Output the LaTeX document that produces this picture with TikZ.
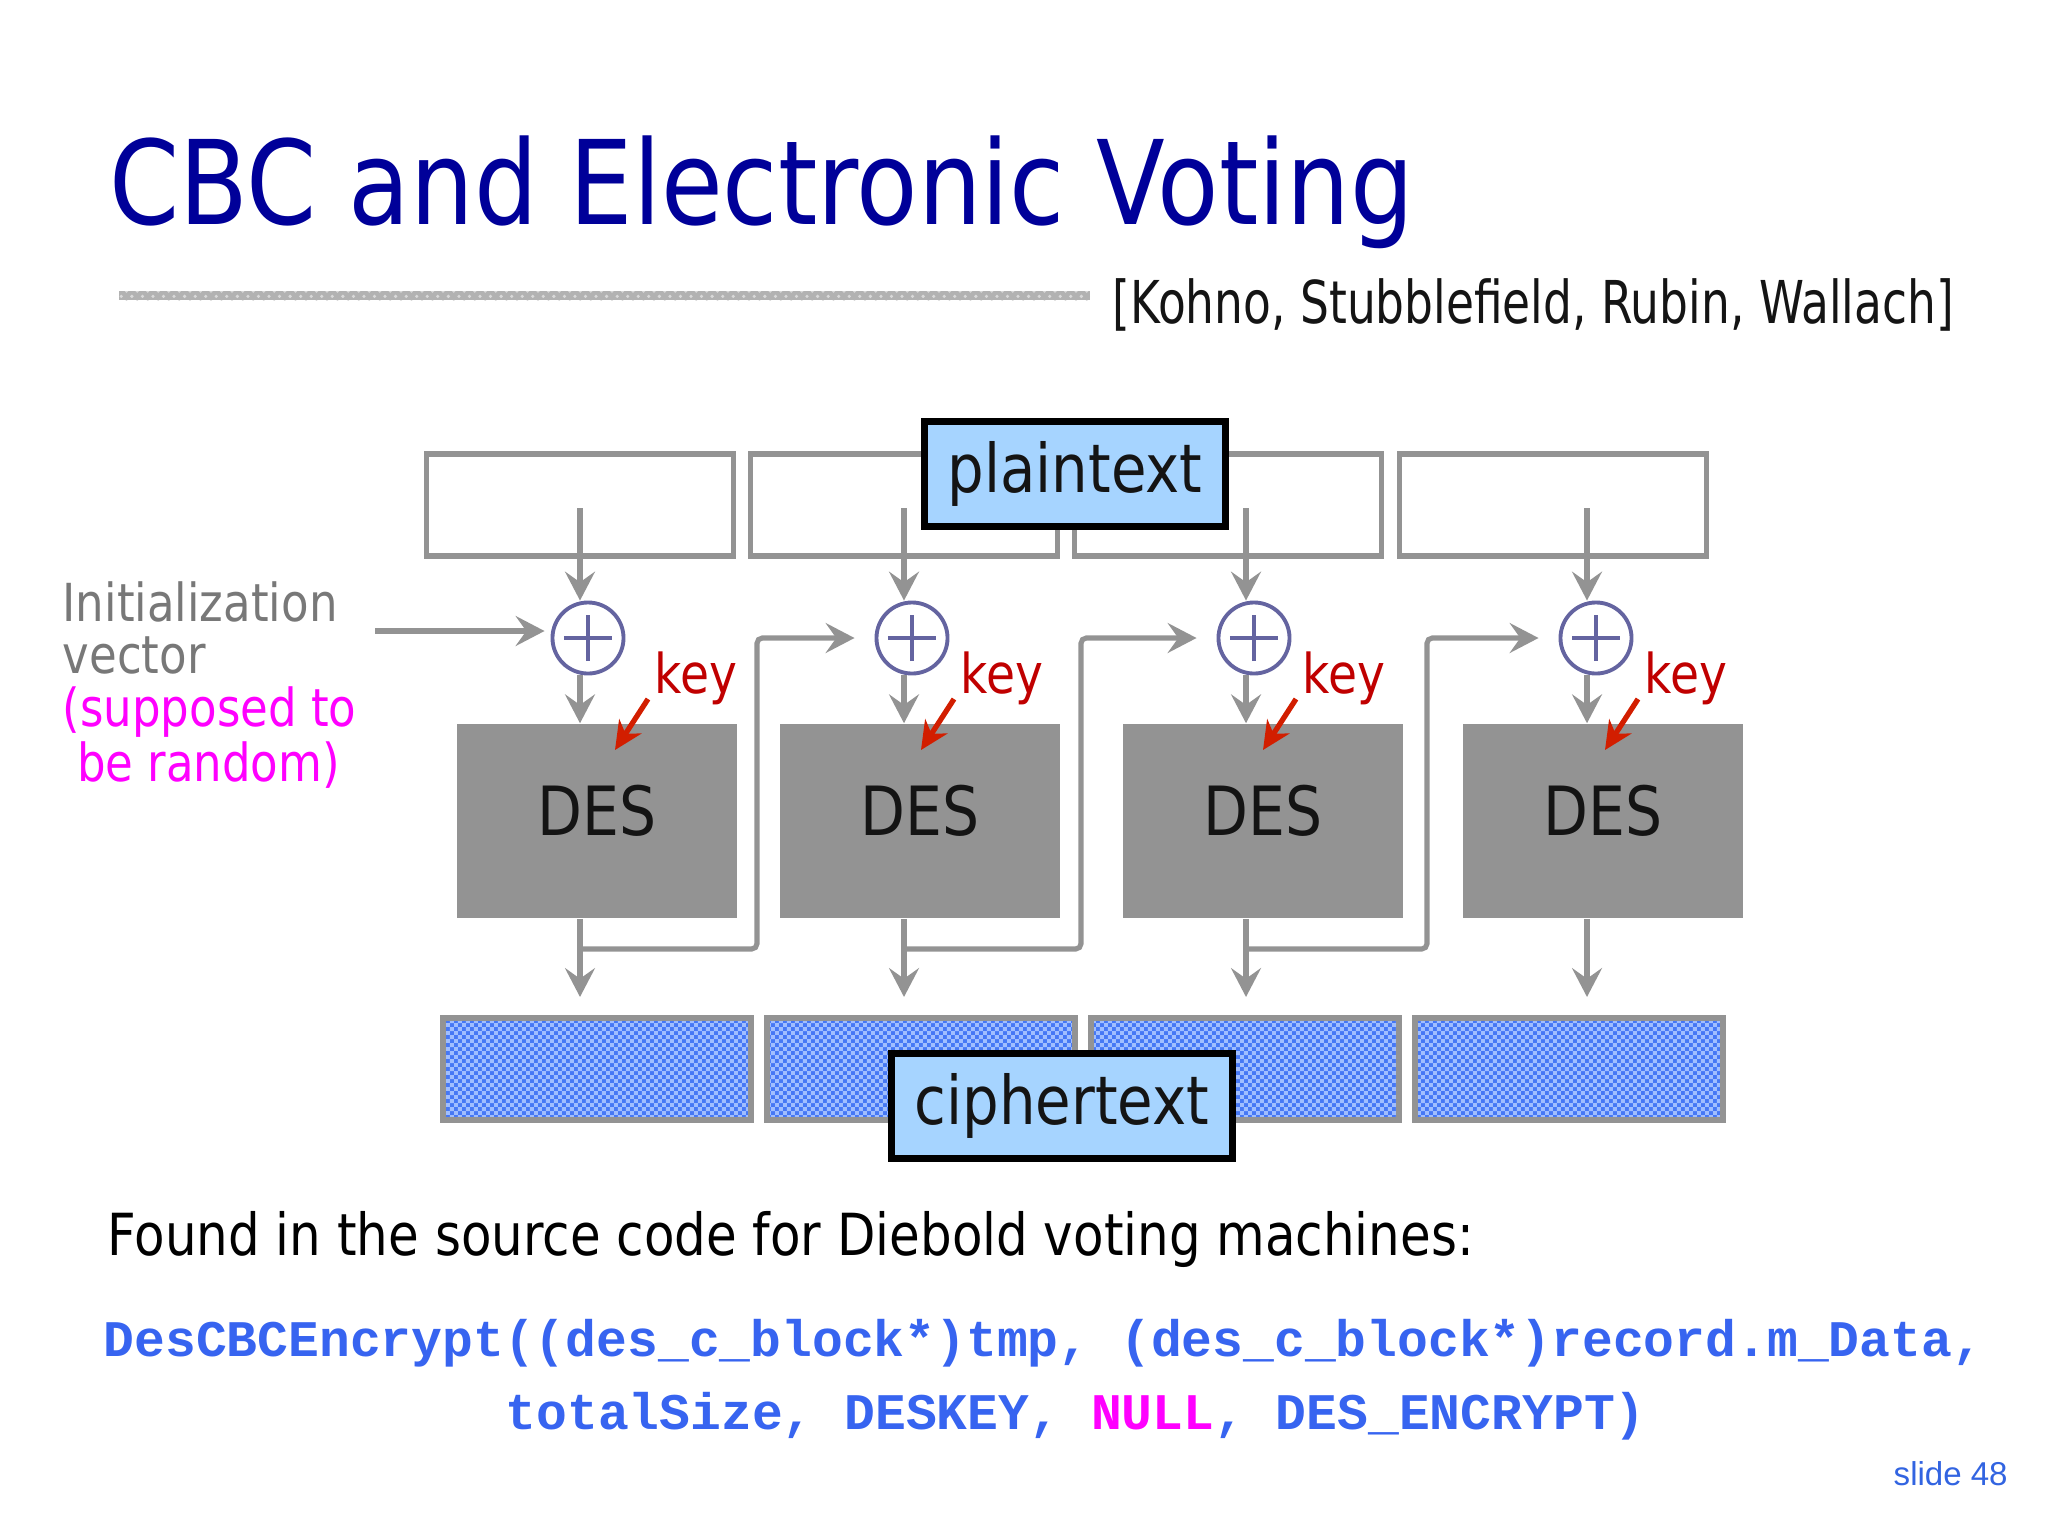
\documentclass[tikz,border=0pt]{standalone}
\usepackage{fontspec}
\setmainfont[FakeStretch=0.86]{DejaVu Sans}
\newfontfamily\citefont[FakeStretch=0.77]{DejaVu Sans}
\newfontfamily\codefont{Liberation Mono}
\newfontfamily\slidefont{Liberation Sans}
\usepackage{tikz}
\usetikzlibrary{arrows.meta}
\usetikzlibrary{patterns,patterns.meta}

\definecolor{titleblue}{RGB}{0,0,153}
\definecolor{ivgray}{RGB}{120,120,120}
\definecolor{hotpink}{RGB}{255,0,255}
\definecolor{linegray}{RGB}{147,147,147}
\definecolor{desgray}{RGB}{147,147,147}
\definecolor{xorpurple}{RGB}{100,100,160}
\definecolor{keyred}{RGB}{192,0,0}
\definecolor{arrowred}{RGB}{210,30,0}
\definecolor{tagblue}{RGB}{166,212,255}
\definecolor{cipherblue}{RGB}{70,120,245}
\definecolor{checkblue}{RGB}{160,190,255}
\definecolor{codeblue}{RGB}{55,100,240}
\definecolor{slideblue}{RGB}{50,100,225}
\definecolor{ink}{RGB}{20,20,20}

\tikzdeclarepattern{
  name=finechecks,
  type=uncolored,
  bottom left={(0pt,0pt)},
  top right={(2.4pt,2.4pt)},
  tile size={(2.4pt,2.4pt)},
  code={
    \pgfpathrectangle{\pgfpointorigin}{\pgfpoint{1.2pt}{1.2pt}}
    \pgfpathrectangle{\pgfpoint{1.2pt}{1.2pt}}{\pgfpoint{1.2pt}{1.2pt}}
    \pgfusepath{fill}
  }
}

\begin{document}
\begin{tikzpicture}[x=0.01cm, y=-0.01cm,
    flow/.style={draw=linegray, line width=1.45pt, -{Stealth[length=8.2pt,width=8.5pt,inset=3pt]}},
    keyarrow/.style={draw=arrowred, line width=1.5pt, -{Stealth[length=8pt,width=7.5pt,inset=2.5pt]}},
    ptblock/.style={draw=linegray, line width=1.45pt, fill=white, minimum width=3.06cm, minimum height=1.02cm, inner sep=0},
    ctblock/.style={draw=linegray, line width=1.7pt, preaction={fill=cipherblue}, pattern=finechecks, pattern color=checkblue, minimum width=3.07cm, minimum height=1.02cm, inner sep=0},
    desbox/.style={fill=desgray, text=ink, minimum width=2.80cm, minimum height=1.94cm, inner sep=0, text depth=0.22cm, font=\fontsize{19.3}{20}\selectfont},
    xorbox/.style={circle, draw=xorpurple, line width=1.1pt, minimum size=0.71cm, inner sep=0,
      path picture={\draw[xorpurple, line width=1.3pt]
        ([xshift=-0.24cm]path picture bounding box.center) -- ([xshift=0.24cm]path picture bounding box.center)
        ([yshift=-0.23cm]path picture bounding box.center) -- ([yshift=0.23cm]path picture bounding box.center);}},
    tag/.style={draw=black, line width=2pt, fill=tagblue, text=ink, inner xsep=0.23cm, minimum height=1.05cm, font=\fontsize{19.1}{20}\selectfont},
    keytext/.style={anchor=base west, inner sep=0, text=keyred, font=\fontsize{15.6}{16}\selectfont},
    ivtext/.style={anchor=base west, inner sep=0, font=\fontsize{14.9}{16}\selectfont},
    codeline/.style={anchor=base west, inner sep=0, text=codeblue, font=\codefont\bfseries\fontsize{14.6}{15}\selectfont}]
    \useasboundingbox (0,0) rectangle (2048,1536);

    % heading
    \node[anchor=base west, inner sep=0, text=titleblue, font=\fontsize{33.2}{36}\selectfont] (title) at (109,224) {CBC and Electronic Voting};
    \fill[gray!60, postaction={pattern=crosshatch dots, pattern color=gray!30}] (119,291) rectangle (1090,300);
    \node[anchor=base west, inner sep=0, text=ink, font=\citefont\fontsize{16.8}{18}\selectfont] (cite) at (1112,323) {[Kohno, Stubblefield, Rubin, Wallach]};

    % the four CBC stages
    \foreach \i/\px/\cx/\dx/\ox/\tx in {1/580/580/597/588/597, 2/904/904/920/912/921, 3/1228/1246/1263/1254/1245, 4/1553/1587/1603/1596/1569}
    {
        \node[ptblock] (p\i) at (\px,505) {};
        \node[xorbox] (x\i) at (\ox,638) {};
        \node[desbox] (d\i) at (\dx,821) {DES};
        \node[ctblock] (c\i) at (\tx,1069) {};
        \coordinate (a\i) at (\cx,508);
    }
    \foreach \i in {1,...,4}
    {
        \draw[flow] (a\i) -- (a\i |- x\i.north);
        \draw[flow] (a\i |- x\i.south) -- (a\i |- d\i.north);
        \draw[flow, shorten >=0.18cm] (a\i |- d\i.south) -- (a\i |- c\i.north);
    }
    % chaining
    \foreach \i/\j/\cx/\fx in {1/2/580/757, 2/3/904/1081, 3/4/1246/1427}
        \draw[flow, rounded corners=1.5pt, shorten >=0.2cm] (\cx,949) -- (\fx,949) |- (x\j);

    % keys
    \foreach \i/\kx in {1/654, 2/960, 3/1302, 4/1644}
    {
        \node[keytext] (k\i) at (\kx,693) {key};
        \draw[keyarrow] ([shift={(-6,6)}]k\i.base west) -- ++(-33,51);
    }

    % initialization vector
    \coordinate (iv) at (375,631);
    \draw[flow, shorten >=0.06cm] (iv) -- (iv -| x1.west);
    \node[ivtext, text=ivgray] (iv1) at (62,621) {Initialization};
    \node[ivtext, text=ivgray] (iv2) at (62,673) {vector};
    \node[ivtext, text=hotpink] (iv3) at (62,726) {(supposed to};
    \node[ivtext, text=hotpink] (iv4) at (62,781) {\ be random)};

    % labels
    \node[tag] (plain) at (1075,474) {plaintext};
    \node[tag] (cipher) at (1062,1106) {ciphertext};

    % source code
    \node[anchor=base west, inner sep=0, text=black, font=\fontsize{16.5}{18}\selectfont] (found) at (107,1255) {Found in the source code for Diebold voting machines:};
    \node[codeline] (code1) at (103,1356) {DesCBCEncrypt((des\_c\_block*)tmp, (des\_c\_block*)record.m\_Data,};
    \node[codeline] (code2) at (505,1429) {totalSize, DESKEY, \textcolor{hotpink}{NULL}, DES\_ENCRYPT)};
    \node[anchor=base west, inner sep=0, text=slideblue, font=\slidefont\fontsize{9.4}{10}\selectfont] (slide) at (1893,1485) {slide 48};
\end{tikzpicture}
\end{document}
